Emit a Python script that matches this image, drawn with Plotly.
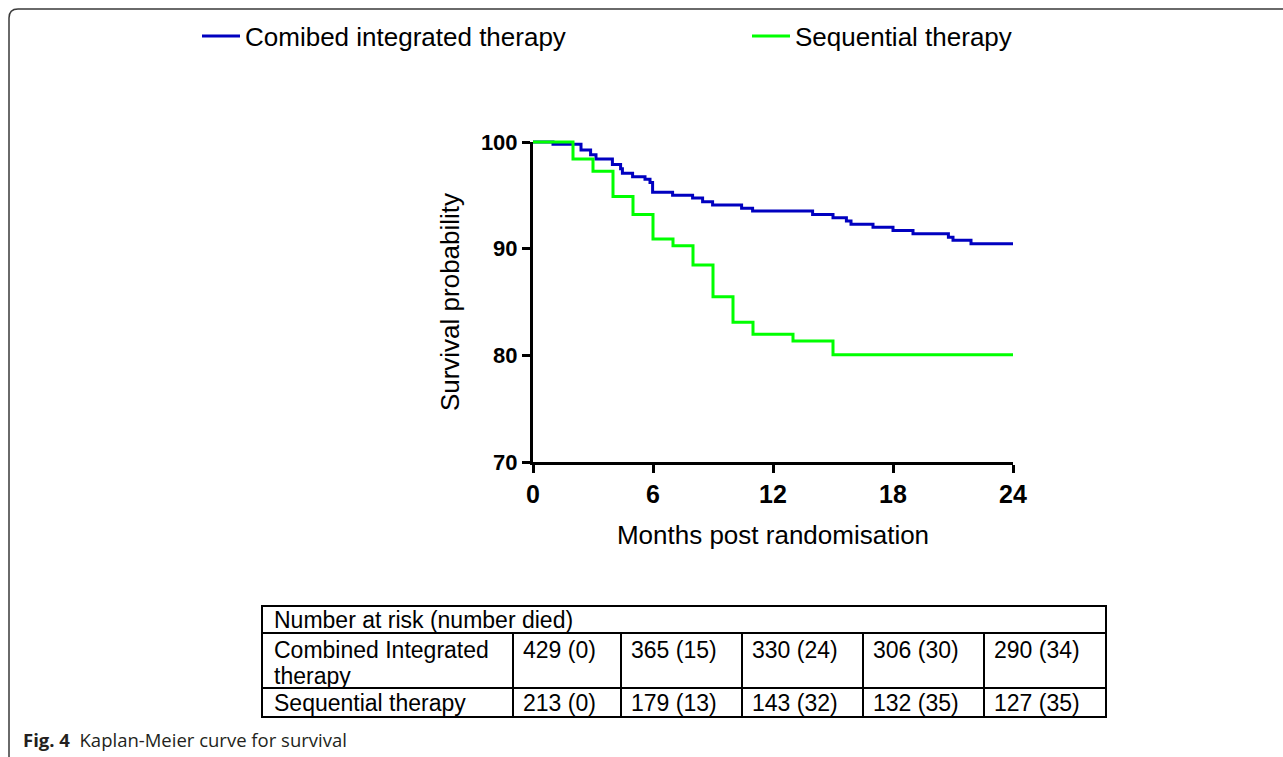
import plotly.graph_objects as go

W, H = 1283, 757

# ---- data ----
cit_months = [0, 1.0, 2.4, 2.88, 3.15, 3.97, 4.38, 4.47, 4.98, 5.6, 5.85, 5.98, 6.98,
              7.98, 8.48, 8.98, 10.43, 10.98, 13.98, 15.0, 15.67, 15.9, 17.0, 18.0,
              19.0, 20.77, 21.0, 21.9, 24]
cit_surv = [100, 99.8, 99.25, 98.8, 98.4, 97.9, 97.5, 97.06, 96.75, 96.5, 96.2, 95.3,
            95.0, 94.75, 94.4, 94.1, 93.8, 93.53, 93.2, 92.9, 92.6, 92.3, 92.0, 91.7,
            91.4, 91.07, 90.8, 90.45, 90.45]
seq_months = [0, 2, 3, 4, 5, 6, 7, 8, 9, 10, 11, 13, 15, 24]
seq_surv = [100, 98.4, 97.25, 94.9, 93.2, 90.9, 90.28, 88.47, 85.5, 83.1, 81.97, 81.34,
            80.05, 80.05]

series_names = ["Comibed integrated therapy", "Sequential therapy"]
x_ticks = [0, 6, 12, 18, 24]
y_ticks = [70, 80, 90, 100]

table_title = "Number at risk (number died)"
row_label_lines = [["Combined Integrated", "therapy"], ["Sequential therapy"]]
cit_at_risk = [429, 365, 330, 306, 290]
cit_died = [0, 15, 24, 30, 34]
seq_at_risk = [213, 179, 143, 132, 127]
seq_died = [0, 13, 32, 35, 35]

caption_bold = "Fig. 4"
caption_text = "Kaplan-Meier curve for survival"

# ---- layout helpers (pixel -> paper) ----
def px(x):
    return x / W

def py(y):
    return 1 - y / H

X0, X1 = 533, 1013   # pixel positions of x = 0 and 24
Y0, Y1 = 462, 142    # pixel positions of y = 70 and 100
xmin, xmax = 0, 24
ymin, ymax = 70, 100
ppx = (X1 - X0) / (xmax - xmin)
ppy = (Y0 - Y1) / (ymax - ymin)
PAD = 5

BLUE = "#0000C0"
GREEN = "#00FF00"
FONT = "Liberation Sans, Arial, sans-serif"

fig = go.Figure()
# curves live on a slightly padded, invisible subplot so the 3px lines are not clipped
fig.add_trace(go.Scatter(x=cit_months, y=cit_surv, mode="lines", line_shape="hv",
                         line=dict(color=BLUE, width=3), name=series_names[0],
                         xaxis="x", yaxis="y"))
fig.add_trace(go.Scatter(x=seq_months, y=seq_surv, mode="lines", line_shape="hv",
                         line=dict(color=GREEN, width=3), name=series_names[1],
                         xaxis="x", yaxis="y"))
# empty trace that makes the visible axis subplot exist
fig.add_trace(go.Scatter(x=[], y=[], xaxis="x2", yaxis="y2", showlegend=False,
                         hoverinfo="skip"))

axis_common = dict(showgrid=False, zeroline=False, showline=True, linecolor="black",
                   linewidth=3, ticks="outside", ticklen=8, tickwidth=3,
                   tickcolor="black")

shapes = []
annotations = []

# table
TL, TR, TT, TB = 262, 1106, 606, 717
H1, H2 = 633, 688
col_lines = [513, 621, 742, 863, 984]
line_style = dict(color="black", width=2)
shapes.append(dict(type="rect", xref="paper", yref="paper", x0=px(TL), x1=px(TR),
                   y0=py(TB), y1=py(TT), line=line_style))
for hy in (H1, H2):
    shapes.append(dict(type="line", xref="paper", yref="paper", x0=px(TL), x1=px(TR),
                       y0=py(hy), y1=py(hy), line=line_style))
for cx in col_lines:
    shapes.append(dict(type="line", xref="paper", yref="paper", x0=px(cx), x1=px(cx),
                       y0=py(H1), y1=py(TB), line=line_style))

tfont = dict(family=FONT, size=23, color="black")

def cell(text, x, y):
    annotations.append(dict(text=text, xref="paper", yref="paper", x=px(x), y=py(y),
                            xanchor="left", yanchor="middle", showarrow=False,
                            font=tfont))

cell(table_title, TL + 10, 620)
row_y = [[650, 676], [703]]
for lines, ys in zip(row_label_lines, row_y):
    for t, yy in zip(lines, ys):
        cell(t, TL + 10, yy)
for i, cx in enumerate(col_lines):
    cell(f"{cit_at_risk[i]} ({cit_died[i]})", cx + 8, 650)
    cell(f"{seq_at_risk[i]} ({seq_died[i]})", cx + 8, 703)

# caption
annotations.append(dict(text=f"<b>{caption_bold}</b>\u00a0\u00a0{caption_text}",
                        xref="paper", yref="paper", x=px(21), y=py(739),
                        xanchor="left", yanchor="middle", showarrow=False,
                        font=dict(family="Open Sans, sans-serif", size=18.5,
                                  color="#231f20")))

# frame
r = 9
fx, fy = 9, 9
path = (f"M {px(fx)},{py(H + 10)} L {px(fx)},{py(fy + r)} "
        f"Q {px(fx)},{py(fy)} {px(fx + r)},{py(fy)} L {px(W + 10)},{py(fy)}")
shapes.append(dict(type="path", xref="paper", yref="paper", path=path,
                   line=dict(color="#3a3a3a", width=1.5)))

fig.update_layout(
    width=W, height=H, autosize=False,
    margin=dict(l=0, r=0, t=0, b=0, autoexpand=False),
    paper_bgcolor="white", plot_bgcolor="rgba(0,0,0,0)",
    showlegend=True,
    legend=dict(orientation="h", x=px(197), y=py(36), xanchor="left",
                yanchor="middle", entrywidth=497, entrywidthmode="pixels",
                itemwidth=38,
                font=dict(family=FONT, size=26, color="black"),
                bgcolor="rgba(0,0,0,0)", borderwidth=0),
    xaxis2=dict(domain=[px(X0), px(X1)], range=[xmin, xmax], tickvals=x_ticks,
                anchor="y2",
                tickfont=dict(family=FONT, size=25, color="black", weight="bold"),
                title=dict(text="Months post randomisation", standoff=19,
                           font=dict(family=FONT, size=26, color="black")),
                **axis_common),
    yaxis2=dict(domain=[py(Y0), py(Y1)], range=[ymin, ymax], tickvals=y_ticks,
                anchor="x2",
                tickfont=dict(family=FONT, size=22, color="black", weight="bold"),
                title=dict(text="Survival probability", standoff=14,
                           font=dict(family=FONT, size=26, color="black")),
                **axis_common),
    xaxis=dict(domain=[px(X0 - PAD), px(X1 + PAD)],
               range=[xmin - PAD / ppx, xmax + PAD / ppx], visible=False,
               anchor="y"),
    yaxis=dict(domain=[py(Y0 + PAD), py(Y1 - PAD)],
               range=[ymin - PAD / ppy, ymax + PAD / ppy], visible=False,
               anchor="x"),
    shapes=shapes,
    annotations=annotations,
)

fig.write_html("out.html", config={"displayModeBar": False},
               post_script="document.body.style.margin='0';"
                           "document.body.style.overflow='hidden';")
